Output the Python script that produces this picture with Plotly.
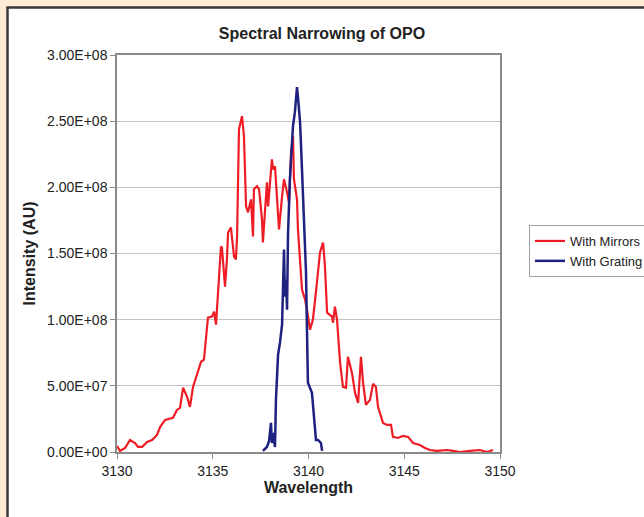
import plotly.graph_objects as go

# ---- data ----
mirror_wavelength = [
    3130.00, 3130.16, 3130.42, 3130.68, 3130.94, 3131.10, 3131.31, 3131.57, 3131.83, 3132.09,
    3132.25, 3132.51, 3132.92, 3133.13, 3133.29, 3133.45, 3133.66, 3133.81, 3133.97, 3134.13,
    3134.23, 3134.39, 3134.54, 3134.70, 3134.75, 3134.96, 3135.07, 3135.17, 3135.22, 3135.33,
    3135.43, 3135.48, 3135.64, 3135.74, 3135.80, 3135.95, 3136.11, 3136.21, 3136.27, 3136.37,
    3136.53, 3136.63, 3136.74, 3136.84, 3137.00, 3137.10, 3137.15, 3137.31, 3137.42, 3137.57,
    3137.62, 3137.83, 3137.89, 3138.09, 3138.15, 3138.25, 3138.36, 3138.46, 3138.62, 3138.72,
    3138.88, 3138.98, 3139.09, 3139.19, 3139.24, 3139.40, 3139.45, 3139.56, 3139.66, 3139.82,
    3139.92, 3140.08, 3140.23, 3140.44, 3140.60, 3140.76, 3140.86, 3140.97, 3141.23, 3141.28,
    3141.38, 3141.49, 3141.65, 3141.80, 3141.96, 3142.06, 3142.27, 3142.43, 3142.59, 3142.74,
    3142.85, 3143.00, 3143.21, 3143.37, 3143.52, 3143.63, 3143.89, 3144.10, 3144.31, 3144.41,
    3144.67, 3144.93, 3145.20, 3145.46, 3145.82, 3146.08, 3146.34, 3146.71, 3147.23, 3147.55,
    3147.91, 3148.43, 3148.96, 3149.32, 3149.63,
]
mirror_intensity = [
    4.5e6, 0.8e6, 3.0e6, 9.1e6, 6.8e6, 3.8e6, 3.8e6, 7.6e6, 9.1e6, 1.29e7,
    1.89e7, 2.42e7, 2.58e7, 3.18e7, 3.33e7, 4.85e7, 4.17e7, 3.41e7, 4.92e7, 5.68e7,
    5.98e7, 6.82e7, 6.97e7, 9.02e7, 1.015e8, 1.023e8, 1.061e8, 9.62e7, 1.076e8, 1.303e8,
    1.553e8, 1.545e8, 1.25e8, 1.455e8, 1.659e8, 1.697e8, 1.477e8, 1.455e8, 1.629e8, 2.439e8,
    2.538e8, 2.386e8, 1.856e8, 1.811e8, 1.909e8, 1.629e8, 1.985e8, 2.008e8, 1.985e8, 1.758e8,
    1.583e8, 2.038e8, 1.856e8, 2.212e8, 2.136e8, 2.159e8, 1.856e8, 1.682e8, 1.932e8, 2.061e8,
    1.962e8, 1.886e8, 2.265e8, 2.386e8, 2.061e8, 1.909e8, 1.682e8, 1.432e8, 1.227e8, 1.152e8,
    1.076e8, 9.24e7, 1.0e8, 1.28e8, 1.508e8, 1.583e8, 1.402e8, 1.053e8, 1.023e8, 9.77e7,
    1.098e8, 1.0e8, 6.74e7, 4.92e7, 4.85e7, 7.2e7, 5.98e7, 4.47e7, 3.71e7, 7.2e7,
    5.23e7, 3.56e7, 3.94e7, 5.15e7, 4.92e7, 3.41e7, 2.2e7, 2.05e7, 2.05e7, 1.14e7,
    1.06e7, 1.21e7, 1.14e7, 6.8e6, 5.3e6, 3.0e6, 1.5e6, 0.8e6, 1.5e6, 0.8e6,
    0.0, 0.8e6, 1.5e6, 0.0, 1.5e6,
]

grating_wavelength = [
    3137.62, 3137.83, 3137.94, 3138.04, 3138.09, 3138.15, 3138.25, 3138.30, 3138.41, 3138.51,
    3138.62, 3138.67, 3138.72, 3138.77, 3138.83, 3138.88, 3138.93, 3139.03, 3139.14, 3139.19,
    3139.29, 3139.40, 3139.45, 3139.56, 3139.66, 3139.77, 3139.87, 3139.92, 3139.97, 3140.18,
    3140.29, 3140.39, 3140.50, 3140.65, 3140.71,
]
grating_intensity = [
    0.8e6, 3.8e6, 8.3e6, 2.2e7, 6.8e6, 1.44e7, 3.8e6, 3.94e7, 7.35e7, 8.26e7,
    9.62e7, 1.288e8, 1.53e8, 1.174e8, 1.303e8, 1.076e8, 1.644e8, 2.061e8, 2.311e8, 2.462e8,
    2.568e8, 2.758e8, 2.682e8, 2.492e8, 2.136e8, 1.682e8, 1.356e8, 9.24e7, 5.23e7, 4.47e7,
    2.65e7, 9.1e6, 9.1e6, 6.8e6, 0.8e6,
]

y_tick_values = [0, 5e7, 1e8, 1.5e8, 2e8, 2.5e8, 3e8]
y_tick_labels = ["0.00E+00", "5.00E+07", "1.00E+08", "1.50E+08", "2.00E+08", "2.50E+08", "3.00E+08"]
x_tick_values = [3130, 3135, 3140, 3145, 3150]

FONT = "Liberation Sans, Arial, sans-serif"

fig = go.Figure()
fig.add_trace(go.Scatter(x=mirror_wavelength, y=mirror_intensity, mode="lines",
                         name="With Mirrors", line=dict(color="#EE1C25", width=2.2)))
fig.add_trace(go.Scatter(x=grating_wavelength, y=grating_intensity, mode="lines",
                         name="With Grating", line=dict(color="#1E2180", width=2.5)))

# Plot area: x 117..500 px, y 55..452 px
L, R, T, B = 117, 144, 55, 65
W, H = 644, 517
pw, ph = W - L - R, H - T - B

def px(xp):
    return (xp - L) / pw

def py(yp):
    return (H - B - yp) / ph

fig.add_shape(type="rect", xref="paper", yref="paper", layer="below",
              x0=px(7.5), x1=px(660), y0=py(540), y1=py(7.5),
              fillcolor="white", line=dict(color="#3a3a3a", width=2.5))

fig.update_layout(
    width=W, height=H,
    margin=dict(l=L, r=R, t=T, b=B, autoexpand=False),
    paper_bgcolor="#FDEAD7",
    plot_bgcolor="white",
    font=dict(family=FONT, color="#222222", size=12),
    title=dict(text="<b>Spectral Narrowing of OPO</b>", x=322 / W, xanchor="center",
               y=1 - 33 / H, yanchor="middle", yref="container",
               font=dict(size=16, family=FONT, color="#222222")),
    xaxis=dict(range=[3130, 3150], tickvals=x_tick_values, showgrid=False,
               showline=True, linecolor="#8a8a8a", linewidth=1.5, mirror=True,
               ticks="outside", ticklen=5, tickcolor="#8a8a8a",
               tickfont=dict(size=14, color="#222222"),
               title=dict(text="<b>Wavelength</b>", font=dict(size=16, color="#222222"), standoff=4),
               zeroline=False, automargin=False),
    yaxis=dict(range=[0, 3e8], tickvals=y_tick_values, ticktext=y_tick_labels,
               showgrid=True, gridcolor="#c4c4c4", gridwidth=1,
               showline=True, linecolor="#8a8a8a", linewidth=1.5, mirror=True,
               ticks="outside", ticklen=5, tickcolor="#8a8a8a",
               tickfont=dict(size=14, color="#222222"),
               title=dict(text="<b>Intensity (AU)</b>", font=dict(size=16, color="#222222"), standoff=8),
               zeroline=False, automargin=False),
    legend=dict(x=529 / W, y=1 - 225 / H, xref="container", yref="container",
                xanchor="left", yanchor="top",
                bgcolor="white", bordercolor="#a0a0a0", borderwidth=1,
                font=dict(size=13, color="#222222"), itemwidth=30),
    showlegend=True,
)

fig.write_html("out.html",
               config={"displayModeBar": False},
               post_script="document.body.style.margin='0px';document.body.style.overflow='hidden';")
